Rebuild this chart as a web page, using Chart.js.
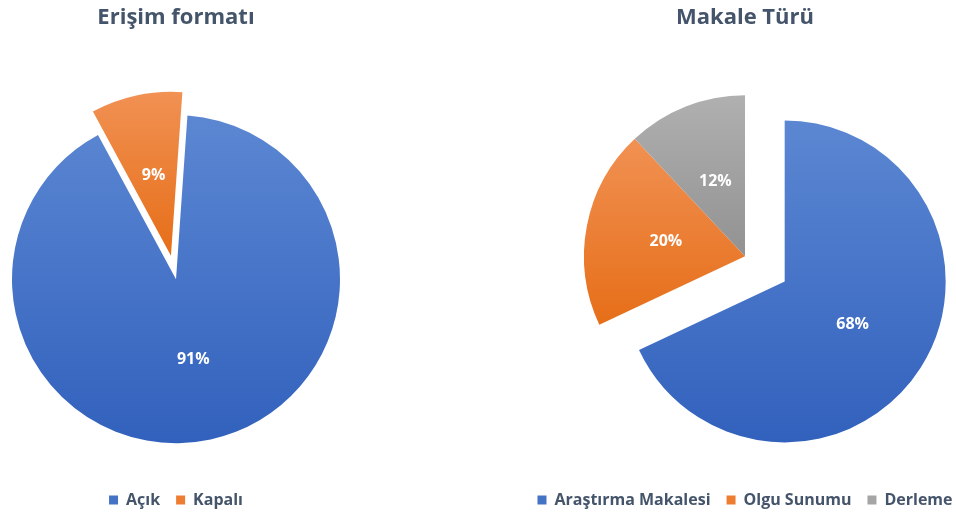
<!DOCTYPE html>
<html lang="tr">
<head>
<meta charset="utf-8">
<title>Erişim formatı / Makale Türü</title>
<script src="https://cdn.jsdelivr.net/npm/chart.js@4.4.1/dist/chart.umd.min.js"></script>
<style>
  html, body { margin: 0; background: #fff; overflow: hidden; width: 956px; height: 518px; }
  .chart-box { position: absolute; top: 0; height: 518px; }
  #accessBox { left: 0; width: 352px; }
  #typeBox { left: 508px; width: 474px; }
</style>
</head>
<body>
<div class="chart-box" id="accessBox"><canvas id="accessChart"></canvas></div>
<div class="chart-box" id="typeBox"><canvas id="typeChart"></canvas></div>
<script>
// Chart data
const accessLabels = ['Açık', 'Kapalı'];
const accessValues = [91, 9];
const typeLabels = ['Araştırma Makalesi', 'Olgu Sunumu', 'Derleme'];
const typeValues = [68, 20, 12];

// Office-like colours: [top of slice, bottom of slice, flat legend colour]
const blue = ['#5B87D2', '#3261BD', '#4472C4'];
const orange = ['#F19153', '#E66E18', '#ED7D31'];
const gray = ['#B0B0B0', '#929292', '#A5A5A5'];
const textColor = '#44546A';

Chart.defaults.font.family = '"Open Sans", "DejaVu Sans", sans-serif';

// vertical gradient over the slice's own bounds
function sliceFill(context) {
    const chart = context.chart;
    const ds = chart.data.datasets[context.datasetIndex];
    const i = context.dataIndex;
    if (i === undefined) return ds.colors[0][2];
    const area = chart.chartArea;
    if (!area) return ds.colors[i][2];

    const total = ds.data.reduce((a, b) => a + b, 0);
    const before = ds.data.slice(0, i).reduce((a, b) => a + b, 0);
    const rot = (ds.rotation || 0) * Math.PI / 180;
    const a0 = -Math.PI / 2 + rot + before / total * Math.PI * 2;
    const a1 = a0 + ds.data[i] / total * Math.PI * 2;
    const mid = (a0 + a1) / 2;
    const d = (ds.explode || [])[i] || 0;
    const r = ds.radius;
    const cx = (area.left + area.right) / 2 + Math.cos(mid) * d;
    const cy = (area.top + area.bottom) / 2 + Math.sin(mid) * d;

    let top = Math.min(cy, cy + r * Math.sin(a0), cy + r * Math.sin(a1));
    let bottom = Math.max(cy, cy + r * Math.sin(a0), cy + r * Math.sin(a1));
    [-Math.PI / 2, Math.PI * 1.5].forEach(a => { if (a >= a0 && a <= a1) top = cy - r; });
    if (Math.PI / 2 >= a0 && Math.PI / 2 <= a1) bottom = cy + r;

    const g = chart.ctx.createLinearGradient(0, top, 0, bottom);
    g.addColorStop(0, ds.colors[i][0]);
    g.addColorStop(1, ds.colors[i][1]);
    return g;
}

// pull exploded slices out along their middle angle
const explodePlugin = {
    id: 'explode',
    afterDatasetUpdate(chart, args) {
        const ds = chart.data.datasets[args.index];
        const meta = chart.getDatasetMeta(args.index);
        meta.data.forEach((arc, i) => {
            const d = (ds.explode || [])[i] || 0;
            if (!d) return;
            const mid = (arc.startAngle + arc.endAngle) / 2;
            arc.x += Math.cos(mid) * d;
            arc.y += Math.sin(mid) * d;
        });
    }
};

// percentage labels inside the slices
const sliceLabels = {
    id: 'sliceLabels',
    afterDatasetsDraw(chart) {
        const ctx = chart.ctx;
        const ds = chart.data.datasets[0];
        const total = ds.data.reduce((a, b) => a + b, 0);
        ctx.save();
        ctx.font = 'bold 16px ' + Chart.defaults.font.family;
        ctx.fillStyle = '#ffffff';
        ctx.textAlign = 'center';
        ctx.textBaseline = 'middle';
        chart.getDatasetMeta(0).data.forEach((arc, i) => {
            const p = arc.tooltipPosition();
            ctx.fillText(Math.round(ds.data[i] / total * 100) + '%', p.x, p.y);
        });
        ctx.restore();
    }
};

function makePie(canvasId, title, labels, values, colors, explode, radius, rotation, titleGap) {
    const ctx = document.getElementById(canvasId).getContext('2d');
    return new Chart(ctx, {
        type: 'pie',
        data: {
            labels: labels,
            datasets: [{
                data: values,
                colors: colors,
                explode: explode,
                radius: radius,
                rotation: rotation,
                backgroundColor: sliceFill,
                borderWidth: 0,
                clip: false
            }]
        },
        options: {
            responsive: true,
            maintainAspectRatio: false,
            animation: false,
            events: [],
            plugins: {
                title: {
                    display: true,
                    text: title,
                    color: textColor,
                    font: { size: 22, weight: 'bold' },
                    padding: { top: 5, bottom: titleGap }
                },
                legend: {
                    position: 'bottom',
                    labels: {
                        boxWidth: 9,
                        boxHeight: 9,
                        padding: 16,
                        color: textColor,
                        font: { size: 16, weight: 'bold' },
                        generateLabels: chart => chart.data.labels.map((text, i) => ({
                            text: text,
                            fillStyle: colors[i][2],
                            strokeStyle: colors[i][2],
                            lineWidth: 0,
                            fontColor: textColor,
                            hidden: false,
                            index: i
                        }))
                    }
                },
                tooltip: { enabled: false }
            }
        },
        plugins: [explodePlugin, sliceLabels]
    });
}

makePie('accessChart', 'Erişim formatı', accessLabels, accessValues,
    [blue, orange], [0, 24], 164, 4, 51);
makePie('typeChart', 'Makale Türü', typeLabels, typeValues,
    [blue, orange, gray], [47, 0, 0], 161, 0, 5);
</script>
</body>
</html>
